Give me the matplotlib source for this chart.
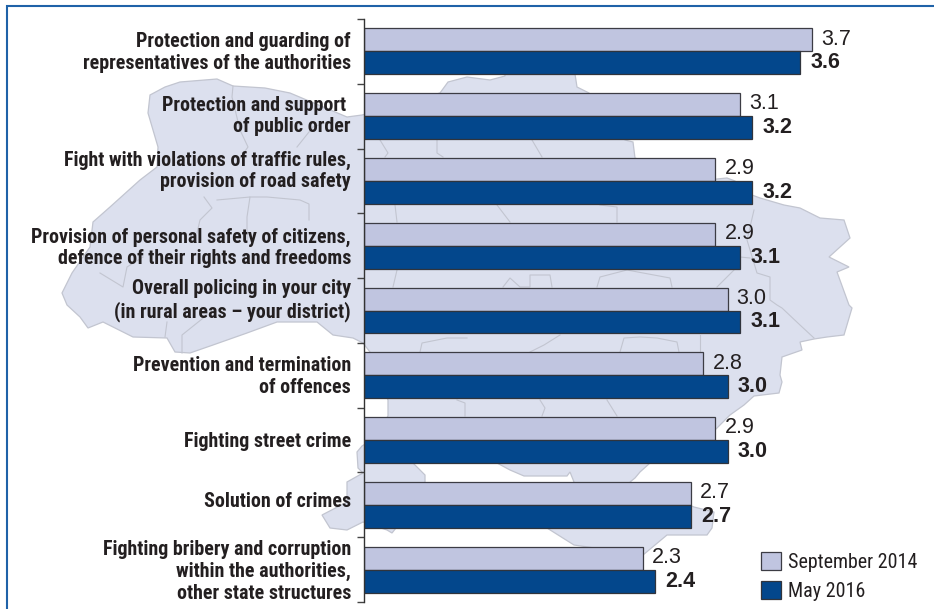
#!/usr/bin/env python3
# -*- coding: utf-8 -*-
"""Police activity ratings, September 2014 vs May 2016, on a map backdrop."""
import matplotlib
matplotlib.use("Agg")
import matplotlib.pyplot as plt
from matplotlib.patches import Patch, Polygon

W, H = 934, 609

CATEGORIES = [
    "Protection and guarding of\nrepresentatives of the authorities",
    "Protection and support \nof public order",
    "Fight with violations of traffic rules,\nprovision of road safety",
    "Provision of personal safety of citizens,\ndefence of their rights and freedoms",
    "Overall policing in your city\n(in rural areas \u2013 your district)",
    "Prevention and termination\nof offences",
    "Fighting street crime",
    "Solution of crimes",
    "Fighting bribery and corruption\nwithin the authorities,\nother state structures",
]
SEP_2014 = [3.7, 3.1, 2.9, 2.9, 3.0, 2.8, 2.9, 2.7, 2.3]
MAY_2016 = [3.6, 3.2, 3.2, 3.1, 3.1, 3.0, 3.0, 2.7, 2.4]
SERIES_NAMES = ["September 2014", "May 2016"]

# backdrop map, in image pixels (decoration, not data)
MAP_OUTLINE = [
    (150, 95), (165, 87), (180, 82), (217, 79), (233, 86), (265, 88), (290, 93), (347, 117),
    (362, 115), (440, 93), (448, 82), (467, 77), (490, 80), (505, 76), (505, 74), (575, 74),
    (577, 87), (589, 93), (625, 140), (633, 142), (634, 150), (635, 158), (700, 181),
    (717, 179), (727, 178), (735, 181), (752, 195), (760, 198), (784, 205), (800, 208),
    (820, 218), (844, 220), (850, 238), (829, 257), (849, 267), (837, 272), (849, 305),
    (852, 308), (844, 335), (827, 337), (814, 339), (800, 342), (802, 350), (782, 357),
    (780, 375), (782, 382), (779, 393), (754, 396), (744, 405), (730, 415), (715, 430),
    (706, 440), (650, 463), (640, 472), (635, 478), (630, 482), (694, 507), (714, 512),
    (712, 528), (707, 535), (667, 535), (643, 555), (574, 545), (547, 528), (540, 500),
    (574, 482), (570, 472), (567, 476), (524, 476), (510, 470), (497, 463), (413, 463),
    (425, 475), (425, 482), (396, 528), (392, 533), (387, 530), (363, 522), (347, 530),
    (330, 528), (322, 515), (347, 502), (347, 482), (363, 473), (358, 468), (357, 452),
    (362, 446), (372, 440), (388, 416), (388, 400), (370, 352), (363, 343), (353, 338),
    (333, 335), (317, 322), (277, 322), (247, 333), (213, 345), (190, 353), (175, 352),
    (167, 338), (133, 337), (103, 322), (88, 328), (80, 317), (67, 305), (62, 293),
    (72, 273), (90, 247), (93, 222), (110, 207), (140, 180), (157, 167), (158, 147),
    (148, 113),
]
MAP_BORDERS = [
    [(233, 86), (232, 97), (240, 130), (248, 147), (240, 158)],
    [(297, 147), (313, 127), (333, 120)],
    [(204, 197), (212, 208), (200, 220), (197, 233)],
    [(217, 200), (250, 197), (247, 217), (247, 240)],
    [(250, 197), (267, 197), (300, 200), (309, 204), (309, 220)],
    [(100, 273), (123, 287), (127, 267), (143, 257)],
    [(380, 140), (388, 153), (385, 157)],
    [(437, 140), (437, 153), (443, 157)],
    [(395, 205), (397, 222)],
    [(397, 270), (393, 287)],
    [(532, 140), (542, 157)],
    [(497, 205), (510, 222)],
    [(600, 205), (617, 207), (617, 222)],
    [(754, 210), (747, 240), (757, 273), (770, 277), (770, 300), (777, 305), (782, 308),
     (800, 325), (814, 338)],
    [(740, 257), (750, 258)],
    [(717, 287), (734, 270)],
    [(597, 287), (600, 277), (627, 270), (670, 278), (672, 287)],
    [(503, 287), (510, 278), (520, 287), (530, 287), (530, 275), (550, 275), (552, 287)],
    [(700, 335), (700, 352)],
    [(620, 352), (624, 338), (640, 337), (657, 338), (677, 342), (679, 352)],
    [(530, 352), (544, 345), (560, 335)],
    [(420, 352), (422, 343), (447, 338), (467, 338)],
    [(457, 400), (465, 403), (465, 416)],
    [(540, 400), (545, 408), (542, 416)],
    [(607, 400), (617, 416)],
    [(167, 322), (165, 337)],
    [(182, 353), (182, 335), (207, 315)],
]

# layout tweaks: vertical shift of each category label, in pixels
LABEL_SHIFT = [1, 0, -10, 2, -10, 1, 1, -3, 2]

INK = "#231f20"
LIGHT = "#c0c5e0"
DARK = "#03478c"
MAP_FILL = "#dce0ee"
MAP_LINE = "#c2c5d0"
FRAME = "#1f62a8"
NARROW = ["Roboto Condensed", "Liberation Sans Narrow", "Liberation Sans", "DejaVu Sans"]
REGULAR = ["Liberation Sans", "DejaVu Sans"]

fig = plt.figure(figsize=(W / 100, H / 100), dpi=100, facecolor="white")

# pixel-space layer for the frame and the map
bg = fig.add_axes([0, 0, 1, 1], zorder=0)
bg.set_xlim(0, W)
bg.set_ylim(H, 0)
bg.axis("off")
bg.add_patch(Polygon(MAP_OUTLINE, closed=True, facecolor=MAP_FILL, edgecolor=MAP_LINE, lw=0.9))
for seg in MAP_BORDERS:
    bg.plot(*zip(*seg), color=MAP_LINE, lw=0.8, solid_joinstyle="round")
bg.plot([W, 7, 7], [5.5, 5.5, H], color=FRAME, lw=1.5, solid_joinstyle="miter", clip_on=False)

# chart layer: 364..934 px wide, 19..602 px tall
ax = fig.add_axes([364 / W, 1 - 602 / H, (W - 364) / W, (602 - 19) / H], zorder=1)
ax.patch.set_alpha(0)
ax.set_xlim(0, (W - 364) / 121.2)
ax.set_ylim(8.5, -0.5)
for s in ["top", "right", "bottom"]:
    ax.spines[s].set_visible(False)
ax.spines["left"].set_color("#333333")
ax.spines["left"].set_linewidth(1.0)
ax.set_xticks([])
ax.set_yticks([i - 0.5 for i in range(len(CATEGORIES) + 1)])
ax.set_yticklabels([])
ax.tick_params(axis="y", length=5, width=1.0, color="#444444")

BAR_H = 0.355
ys = list(range(len(CATEGORIES)))
ax.barh([y - BAR_H / 2 for y in ys], SEP_2014, height=BAR_H, color=LIGHT, edgecolor="#3c3c44", lw=0.9)
ax.barh([y + BAR_H / 2 for y in ys], MAY_2016, height=BAR_H, color=DARK, edgecolor="#30343c", lw=0.9)

for y, a, b, label, shift in zip(ys, SEP_2014, MAY_2016, CATEGORIES, LABEL_SHIFT):
    ax.annotate("%.1f" % a, (a, y - BAR_H / 2), xytext=(6.5, 0.5), textcoords="offset points",
                va="center", ha="left", fontsize=15.5, color=INK, family=REGULAR)
    ax.annotate("%.1f" % b, (b, y + BAR_H / 2), xytext=(7.5, 0), textcoords="offset points",
                va="center", ha="left", fontsize=15.5, color=INK, family=REGULAR, fontweight="bold")
    ax.annotate(label, (0, y), xytext=(-9.4, -shift * 0.72), textcoords="offset points",
                va="center", ha="right", multialignment="right", fontsize=14.4, color=INK,
                family=NARROW, fontweight="bold", linespacing=1.17)

leg = ax.legend(
    handles=[Patch(facecolor=LIGHT, edgecolor="#3c3c44", lw=0.9, label=SERIES_NAMES[0]),
             Patch(facecolor=DARK, edgecolor="#30343c", lw=0.9, label=SERIES_NAMES[1])],
    loc="lower left", bbox_to_anchor=(761 / W, 1 - 601 / H), bbox_transform=fig.transFigure,
    frameon=False, borderpad=0, borderaxespad=0, handlelength=1.0, handleheight=1.0,
    handletextpad=0.35, labelspacing=0.45,
    prop={"family": NARROW, "size": 14.4},
)
for t in leg.get_texts():
    t.set_color(INK)

fig.savefig("out.png", dpi=100)
